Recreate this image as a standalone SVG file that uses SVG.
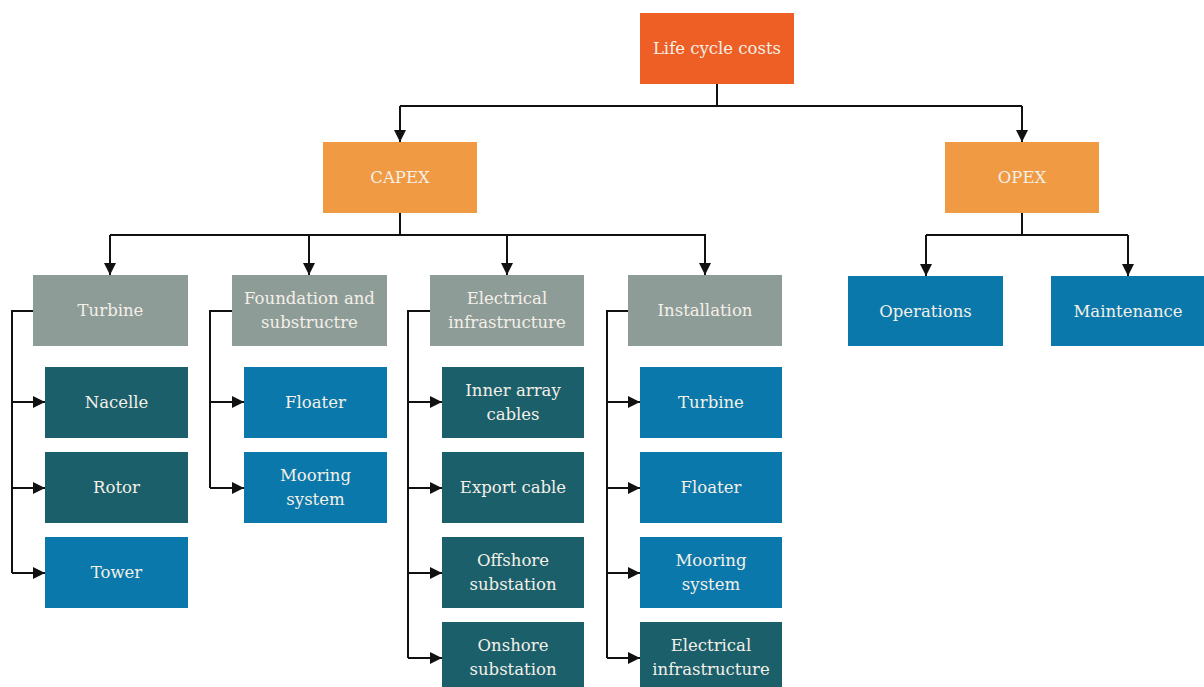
<svg xmlns="http://www.w3.org/2000/svg" width="1204" height="687" viewBox="0 0 1204 687">
  <style>
    .lbl { font-family: "DejaVu Serif", "Liberation Serif", serif; font-size: 16.5px; fill: #F4F0E8; text-anchor: middle; dominant-baseline: central; }
    .root { fill: #EE5F25; }
    .cat { fill: #F09A43; }
    .grp { fill: #8E9C98; }
    .teal { fill: #1B5F6B; }
    .blue { fill: #0A78AB; }
    .wire { fill: none; stroke: #111; stroke-width: 2; }
    .arr { fill: none; stroke: #111; stroke-width: 2; marker-end: url(#head); }
  </style>
  <defs>
    <marker id="head" markerUnits="userSpaceOnUse" markerWidth="12" markerHeight="12" viewBox="0 0 12 12" refX="12" refY="6" orient="auto">
      <path d="M0,0 L12,6 L0,12 Z" fill="#111"/>
    </marker>
  </defs>
  <rect width="1204" height="687" fill="#ffffff"/>

  <g id="connectors">
    <!-- top level -->
    <path class="wire" d="M717,84 V106 M400,106 H1022"/>
    <path class="arr" d="M400,106 V142"/>
    <path class="arr" d="M1022,106 V142"/>
    <!-- CAPEX branches -->
    <path class="wire" d="M400,213 V235 M110,235 H706"/>
    <path class="arr" d="M110,235 V275"/>
    <path class="arr" d="M309,235 V275"/>
    <path class="arr" d="M507,235 V275"/>
    <path class="arr" d="M705,235 V275"/>
    <!-- OPEX branches -->
    <path class="wire" d="M1022,213 V235 M926,235 H1128"/>
    <path class="arr" d="M926,235 V276"/>
    <path class="arr" d="M1128,235 V276"/>
    <!-- Turbine items -->
    <path class="wire" d="M33,311 H12 V573"/>
    <path class="arr" d="M12,402 H45"/>
    <path class="arr" d="M12,488 H45"/>
    <path class="arr" d="M12,573 H45"/>
    <!-- Foundation items -->
    <path class="wire" d="M232,311 H210 V488"/>
    <path class="arr" d="M210,402 H244"/>
    <path class="arr" d="M210,488 H244"/>
    <!-- Electrical items -->
    <path class="wire" d="M430,311 H408 V658"/>
    <path class="arr" d="M408,402 H442"/>
    <path class="arr" d="M408,488 H442"/>
    <path class="arr" d="M408,573 H442"/>
    <path class="arr" d="M408,658 H442"/>
    <!-- Installation items -->
    <path class="wire" d="M628,311 H607 V658"/>
    <path class="arr" d="M607,402 H640"/>
    <path class="arr" d="M607,488 H640"/>
    <path class="arr" d="M607,573 H640"/>
    <path class="arr" d="M607,658 H640"/>
  </g>

  <g id="life-cycle-costs"><rect class="root" x="640" y="13" width="154" height="71"/><text class="lbl" x="717" y="48.5">Life cycle costs</text></g>
  <g id="capex"><rect class="cat" x="323" y="142" width="154" height="71"/><text class="lbl" x="400" y="177.5">CAPEX</text></g>
  <g id="opex"><rect class="cat" x="945" y="142" width="154" height="71"/><text class="lbl" x="1022" y="177.5">OPEX</text></g>

  <g id="turbine"><rect class="grp" x="33" y="275" width="155" height="71"/><text class="lbl" x="110.5" y="310.5">Turbine</text></g>
  <g id="foundation"><rect class="grp" x="232" y="275" width="155" height="71"/><text class="lbl" x="309.5" y="298.5">Foundation and</text><text class="lbl" x="309.5" y="322.5">substructre</text></g>
  <g id="electrical"><rect class="grp" x="430" y="275" width="154" height="71"/><text class="lbl" x="507" y="298.5">Electrical</text><text class="lbl" x="507" y="322.5">infrastructure</text></g>
  <g id="installation"><rect class="grp" x="628" y="275" width="154" height="71"/><text class="lbl" x="705" y="310.5">Installation</text></g>

  <g id="operations"><rect class="blue" x="848" y="276" width="155" height="70"/><text class="lbl" x="925.5" y="311">Operations</text></g>
  <g id="maintenance"><rect class="blue" x="1051" y="276" width="155" height="70"/><text class="lbl" x="1128" y="311">Maintenance</text></g>

  <g id="nacelle"><rect class="teal" x="45" y="367" width="143" height="71"/><text class="lbl" x="116.5" y="402.5">Nacelle</text></g>
  <g id="rotor"><rect class="teal" x="45" y="452" width="143" height="71"/><text class="lbl" x="116.5" y="487.5">Rotor</text></g>
  <g id="tower"><rect class="blue" x="45" y="537" width="143" height="71"/><text class="lbl" x="116.5" y="572.5">Tower</text></g>

  <g id="floater"><rect class="blue" x="244" y="367" width="143" height="71"/><text class="lbl" x="315.5" y="402.5">Floater</text></g>
  <g id="mooring"><rect class="blue" x="244" y="452" width="143" height="71"/><text class="lbl" x="315.5" y="475.5">Mooring</text><text class="lbl" x="315.5" y="499.5">system</text></g>

  <g id="inner-array"><rect class="teal" x="442" y="367" width="142" height="71"/><text class="lbl" x="513" y="390.5">Inner array</text><text class="lbl" x="513" y="414.5">cables</text></g>
  <g id="export-cable"><rect class="teal" x="442" y="452" width="142" height="71"/><text class="lbl" x="513" y="487.5">Export cable</text></g>
  <g id="offshore-substation"><rect class="teal" x="442" y="537" width="142" height="71"/><text class="lbl" x="513" y="560.5">Offshore</text><text class="lbl" x="513" y="584.5">substation</text></g>
  <g id="onshore-substation"><rect class="teal" x="442" y="622" width="142" height="71"/><text class="lbl" x="513" y="645.5">Onshore</text><text class="lbl" x="513" y="669.5">substation</text></g>

  <g id="install-turbine"><rect class="blue" x="640" y="367" width="142" height="71"/><text class="lbl" x="711" y="402.5">Turbine</text></g>
  <g id="install-floater"><rect class="blue" x="640" y="452" width="142" height="71"/><text class="lbl" x="711" y="487.5">Floater</text></g>
  <g id="install-mooring"><rect class="blue" x="640" y="537" width="142" height="71"/><text class="lbl" x="711" y="560.5">Mooring</text><text class="lbl" x="711" y="584.5">system</text></g>
  <g id="install-electrical"><rect class="teal" x="640" y="622" width="142" height="71"/><text class="lbl" x="711" y="645.5">Electrical</text><text class="lbl" x="711" y="669.5">infrastructure</text></g>
</svg>
